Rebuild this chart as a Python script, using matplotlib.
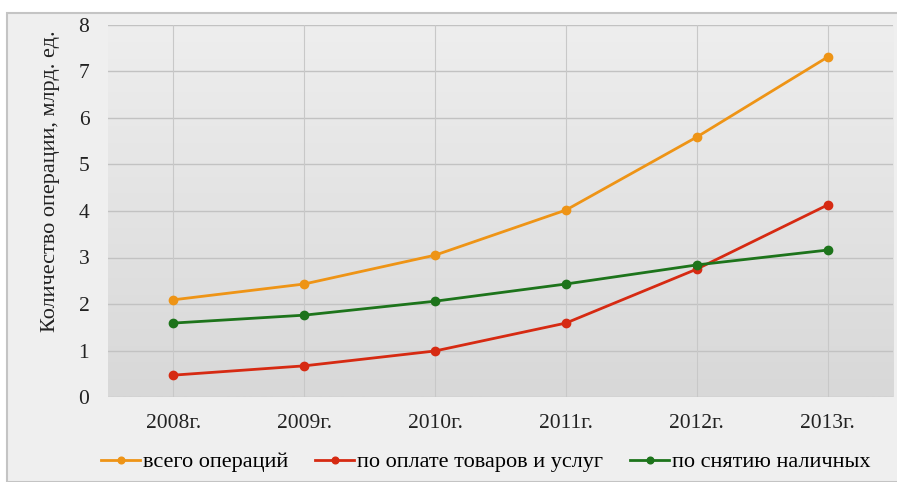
import numpy as np
import matplotlib.pyplot as plt
from matplotlib.patches import Rectangle
from matplotlib.colors import LinearSegmentedColormap

years = ["2008г.", "2009г.", "2010г.", "2011г.", "2012г.", "2013г."]
total_ops = [2.09, 2.43, 3.05, 4.02, 5.59, 7.31]
payment_ops = [0.47, 0.67, 0.99, 1.59, 2.75, 4.13]
cash_ops = [1.59, 1.76, 2.06, 2.43, 2.84, 3.16]
labels = ["всего операций", "по оплате товаров и услуг", "по снятию наличных"]


def main():
    plt.rcParams['font.family'] = ['Liberation Serif', 'DejaVu Serif']

    fig = plt.figure(figsize=(8.97, 4.82), dpi=100)
    fig.patch.set_facecolor('white')
    # outer chart frame
    frame = Rectangle((7 / 897, 0), 1, 1 - 13 / 482, transform=fig.transFigure,
                      facecolor='#efefef', edgecolor='#c4c4c4', lw=1.5, zorder=-10)
    fig.add_artist(frame)

    ax = fig.add_axes([108 / 897, 1 - 397 / 482, 785 / 897, 372 / 482])
    ax.set_zorder(1)
    x = np.arange(len(years))

    # gradient background
    grad = np.linspace(0, 1, 256).reshape(-1, 1)
    cmap = LinearSegmentedColormap.from_list('g', ['#d8d8d8', '#eeeeee'])
    ax.imshow(grad, extent=[0, 1, 0, 1], transform=ax.transAxes, aspect='auto',
              cmap=cmap, origin='lower', zorder=0)

    for yv in range(0, 9):
        ax.axhline(yv, color='#c2c2c2', lw=1, zorder=1)
    for xv in x:
        ax.axvline(xv, color='#c8c8c8', lw=0.8, zorder=1)

    ax.plot(x, total_ops, color='#ee9416', lw=2, marker='o', ms=6, label=labels[0], zorder=3)
    ax.plot(x, payment_ops, color='#d62a12', lw=2, marker='o', ms=6, label=labels[1], zorder=3)
    ax.plot(x, cash_ops, color='#1d741b', lw=2, marker='o', ms=6, label=labels[2], zorder=4)

    ax.set_xlim(-0.5, len(years) - 0.5)
    ax.set_ylim(0, 8)
    ax.set_xticks(x)
    ax.set_xticklabels(years)
    ax.set_yticks(range(0, 9))
    ax.tick_params(axis='both', length=0, labelsize=15.5, colors='#222222')
    ax.tick_params(axis='x', pad=12)
    ax.tick_params(axis='y', pad=13.5)
    for s in ax.spines.values():
        s.set_visible(False)

    ax.set_ylabel("Количество операции, млрд. ед.", fontsize=16, color='#222222', va='center')
    ax.yaxis.set_label_coords((50 - 108) / 785, (397 - 181.5) / 372)

    fig.legend(loc='center', bbox_to_anchor=(486 / 897, 1 - 462 / 482), ncol=3, frameon=False,
               fontsize=16, handlelength=1.75, handletextpad=0.15, columnspacing=1.2,
               markerscale=0.8, borderpad=0, borderaxespad=0)

    plt.savefig("out.png", dpi=100)


if __name__ == "__main__":
    main()
